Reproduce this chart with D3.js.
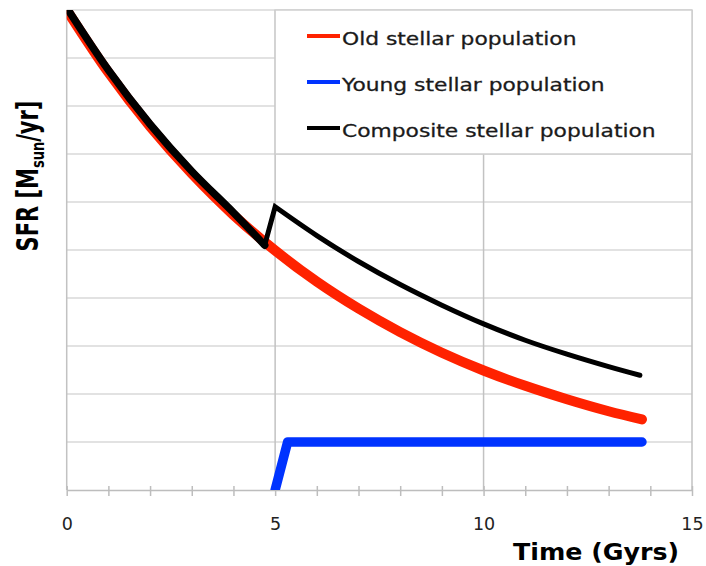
<!DOCTYPE html>
<html>
<head>
<meta charset="utf-8">
<script src="https://cdn.jsdelivr.net/npm/d3@7"></script>
<style>
  body { margin: 0; background: #fff; }
  text { font-family: "DejaVu Sans", sans-serif; }
</style>
</head>
<body>
<svg id="chart" width="706" height="566"></svg>
<script>
// values (time in Gyr, SFR in grid units)
const oldTime = [0, 1, 2, 3, 4, 5, 6, 7, 8, 9, 10, 11, 12, 13, 13.8];
const oldSFR  = [10, 8.7, 7.57, 6.59, 5.73, 4.99, 4.34, 3.78, 3.29, 2.86, 2.49, 2.17, 1.89, 1.64, 1.47];

const youngTime = [5.0, 5.3, 13.8];
const youngSFR  = [0, 1, 1];

// composite: before the burst, and after it
const compBeforeTime = [0, 1, 2, 3, 4, 4.75];
const compBeforeSFR  = [10.05, 8.75, 7.62, 6.64, 5.78, 5.1];
const compAfterTime  = [5, 6, 7, 8, 9, 10, 11, 12, 13, 13.75];
const compAfterSFR   = [5.9, 5.3, 4.76, 4.28, 3.85, 3.46, 3.12, 2.83, 2.57, 2.39];

const seriesNames  = ["Old stellar population", "Young stellar population", "Composite stellar population"];
const seriesColors = ["#ff2200", "#0033ff", "#000000"];
const xLabelTicks  = [0, 5, 10, 15];

const svg = d3.select("#chart");
const x = d3.scaleLinear().domain([0, 15]).range([66.7, 692]);
const y = d3.scaleLinear().domain([0, 10]).range([490, 10]);

// the source picture is stretched sideways, so text gets widened to match
function widen(sel, k) {
  sel.each(function() {
    const w = this.getComputedTextLength();
    d3.select(this).attr("textLength", w * k).attr("lengthAdjust", "spacingAndGlyphs");
  });
}

svg.append("defs").append("clipPath").attr("id", "plot")
  .append("rect")
  .attr("x", x(0)).attr("y", y(10))
  .attr("width", x(15) - x(0)).attr("height", y(0) - y(10));

// horizontal grid
svg.append("g").selectAll("line")
  .data(d3.range(1, 11))
  .join("line")
  .attr("x1", x(0)).attr("x2", x(15))
  .attr("y1", d => y(d)).attr("y2", d => y(d))
  .attr("stroke", "#d9d9d9").attr("stroke-width", 1.5);

// vertical grid + left axis
svg.append("g").selectAll("line")
  .data([0, 5, 10, 15])
  .join("line")
  .attr("x1", d => x(d)).attr("x2", d => x(d))
  .attr("y1", y(10)).attr("y2", y(0))
  .attr("stroke", "#c2c2c2").attr("stroke-width", 1.5);

// x axis
const xAxis = svg.append("g")
  .attr("transform", `translate(0,${y(0)})`)
  .call(d3.axisBottom(x)
    .tickValues(d3.range(0, 16))
    .tickSizeInner(6).tickSizeOuter(0)
    .tickFormat(d => xLabelTicks.includes(d) ? d : ""));
xAxis.select(".domain").attr("stroke", "#bdbdbd").attr("stroke-width", 1.5);
xAxis.selectAll(".tick line")
  .attr("y1", -4).attr("y2", 6)
  .attr("stroke", "#bdbdbd").attr("stroke-width", 1.5);
xAxis.selectAll(".tick text")
  .attr("y", 40).attr("dy", null)
  .attr("fill", "#222").attr("font-size", 17.5)
  .attr("font-family", "DejaVu Sans");

// legend box
const legend = svg.append("g");
legend.append("rect")
  .attr("x", x(5)).attr("y", y(10))
  .attr("width", x(15) - x(5)).attr("height", y(7) - y(10))
  .attr("fill", "#fff").attr("stroke", "#cfcfcf").attr("stroke-width", 1.5);
const rows = legend.selectAll("g.item")
  .data(seriesNames)
  .join("g")
  .attr("class", "item")
  .attr("transform", (d, i) => `translate(307,${45 + i * 46})`);
rows.append("line")
  .attr("x1", 0).attr("x2", 33).attr("y1", -9).attr("y2", -9)
  .attr("stroke", (d, i) => seriesColors[i]).attr("stroke-width", 4);
rows.append("text")
  .attr("x", 35)
  .attr("fill", "#1a1a1a").attr("font-size", 18)
  .attr("stroke", "#1a1a1a").attr("stroke-width", 0.3)
  .text(d => d)
  .call(widen, 1.21);

// curves
const line = d3.line().x(d => x(d[0])).y(d => y(d[1])).curve(d3.curveCatmullRom);
const plot = svg.append("g").attr("clip-path", "url(#plot)");

plot.append("path")
  .attr("d", line(d3.zip(oldTime, oldSFR)))
  .attr("fill", "none").attr("stroke", seriesColors[0])
  .attr("stroke-width", 10).attr("stroke-linecap", "round");

plot.append("path")
  .attr("d", d3.line().x(d => x(d[0])).y(d => y(d[1]))(d3.zip(youngTime, youngSFR)))
  .attr("fill", "none").attr("stroke", seriesColors[1])
  .attr("stroke-width", 9.5).attr("stroke-linecap", "round")
  .attr("stroke-linejoin", "round");

// composite drawn thicker before the burst, thinner after it
const dip = [compBeforeTime[compBeforeTime.length - 1], compBeforeSFR[compBeforeSFR.length - 1]];
plot.append("path")
  .attr("d", line(d3.zip(compBeforeTime, compBeforeSFR)))
  .attr("fill", "none").attr("stroke", seriesColors[2])
  .attr("stroke-width", 7.5).attr("stroke-linecap", "round");
plot.append("path")
  .attr("d", `M${x(dip[0])},${y(dip[1])}` +
    line(d3.zip(compAfterTime, compAfterSFR)).replace(/^M/, "L"))
  .attr("fill", "none").attr("stroke", seriesColors[2])
  .attr("stroke-width", 5).attr("stroke-linecap", "round")
  .attr("stroke-linejoin", "miter");

// axis titles
svg.append("text")
  .attr("x", 513).attr("y", 560)
  .attr("font-weight", "bold").attr("font-size", 23)
  .attr("fill", "#000")
  .text("Time (Gyrs)")
  .call(widen, 1.1);

const yTitle = svg.append("text")
  .attr("transform", "translate(38,176) rotate(-90) scale(1,1.4)")
  .attr("text-anchor", "middle")
  .attr("font-weight", "bold").attr("font-size", 21)
  .attr("fill", "#000");
yTitle.append("tspan").text("SFR [M");
yTitle.append("tspan").attr("font-size", 13).attr("dy", 4).text("sun");
yTitle.append("tspan").attr("dy", -4).text("/yr]");
</script>
</body>
</html>
